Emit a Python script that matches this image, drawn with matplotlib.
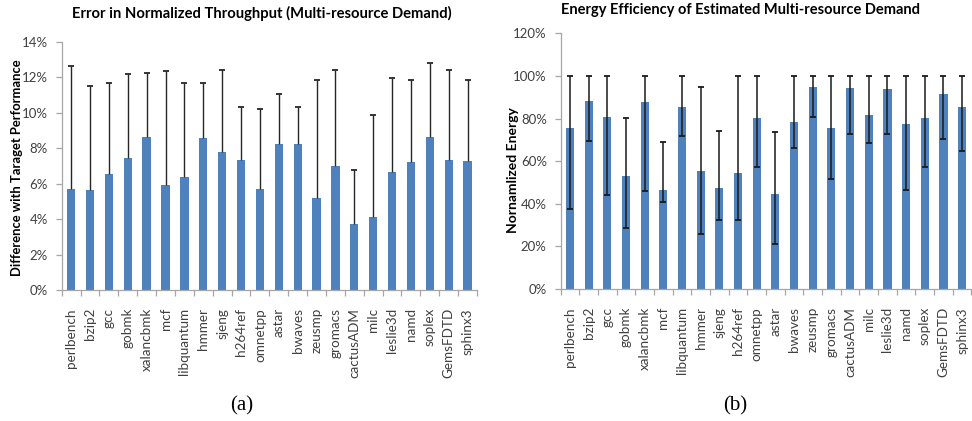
import numpy as np
import matplotlib
matplotlib.use("Agg")
import matplotlib.pyplot as plt
from matplotlib.ticker import FixedLocator, PercentFormatter

benchmarks = ["perlbench", "bzip2", "gcc", "gobmk", "xalancbmk", "mcf", "libquantum",
              "hmmer", "sjeng", "h264ref", "omnetpp", "astar", "bwaves", "zeusmp",
              "gromacs", "cactusADM", "milc", "leslie3d", "namd", "soplex",
              "GemsFDTD", "sphinx3"]

# (a) throughput error, percent: mean and maximum
tp_err_mean = [5.69, 5.66, 6.52, 7.44, 8.63, 5.90, 6.37, 8.57, 7.78, 7.31, 5.69,
               8.23, 8.23, 5.21, 6.97, 3.74, 4.12, 6.65, 7.22, 8.64, 7.33, 7.27]
tp_err_max = [12.65, 11.48, 11.69, 12.18, 12.25, 12.35, 11.65, 11.65, 12.42, 10.34, 10.22,
              11.03, 10.30, 11.82, 12.38, 6.77, 9.87, 11.97, 11.82, 12.78, 12.38, 11.82]

# (b) normalized energy, percent: mean, min and max
en_mean = [75.6, 88.1, 80.7, 52.9, 87.8, 46.5, 85.6, 55.2, 47.4, 54.3, 80.1,
           44.4, 78.4, 94.8, 75.6, 94.2, 81.5, 93.7, 77.6, 80.3, 91.4, 85.4]
en_min = [37.5, 69.3, 44.3, 28.5, 46.0, 40.8, 71.7, 25.8, 32.5, 32.5, 57.4,
          21.0, 66.0, 80.7, 51.6, 72.7, 68.4, 72.7, 46.3, 57.1, 70.4, 64.6]
en_max = [100.0, 100.0, 100.0, 80.1, 100.0, 69.2, 100.0, 94.7, 74.3, 100.0, 100.0,
          73.8, 100.0, 100.0, 100.0, 100.0, 99.8, 100.0, 100.0, 100.0, 100.0, 100.0]

BAR = "#4F81BD"
AXIS = "#A6A6A6"
TICKTXT = "#404040"
FONT = ["Lato", "DejaVu Sans"]

plt.rcParams["font.family"] = FONT

W, H = 972, 421
fig = plt.figure(figsize=(W / 100, H / 100), dpi=100)


def px_axes(x0, y0, x1, y1):
    return fig.add_axes([x0 / W, 1 - y1 / H, (x1 - x0) / W, (y1 - y0) / H])


def style(ax, ymax, ystep):
    n = len(benchmarks)
    ax.set_xlim(-0.5, n - 0.5)
    ax.set_ylim(0, ymax)
    for s in ("top", "right"):
        ax.spines[s].set_visible(False)
    for s in ("left", "bottom"):
        ax.spines[s].set_color(AXIS)
        ax.spines[s].set_linewidth(0.9)
    ax.set_xticks(range(n))
    ax.set_xticklabels(benchmarks, rotation=90, fontsize=9.7, color=TICKTXT)
    ax.tick_params(axis="x", which="major", length=0, pad=13)
    ax.xaxis.set_minor_locator(FixedLocator(np.arange(-0.5, n, 1.0)))
    ax.tick_params(axis="x", which="minor", length=4, color=AXIS, width=0.9)
    ax.set_yticks(np.arange(0, ymax + 1e-9, ystep))
    ax.yaxis.set_major_formatter(PercentFormatter(decimals=0))
    ax.tick_params(axis="y", length=4, color=AXIS, width=0.9, labelsize=9.5,
                   labelcolor=TICKTXT, pad=6)


def label_at(ax, text, xpx, ypx, size):
    # place a vertical axis label at a figure pixel position
    fig.text(xpx / W, 1 - ypx / H, text, rotation=90, fontsize=size,
             fontweight="bold", ha="center", va="center")


x = np.arange(len(benchmarks))

# ---- (a) ----
ax1 = px_axes(61.7, 41.7, 477, 290)
ax1.bar(x, tp_err_mean, width=0.44, color=BAR, zorder=2)
up = np.array(tp_err_max) - np.array(tp_err_mean)
ax1.errorbar(x, tp_err_mean, yerr=[np.zeros_like(up), up], fmt="none",
             ecolor="#262626", elinewidth=1.0, capsize=0, zorder=3)
ax1.plot(x, tp_err_max, linestyle="none", marker="_", markersize=5,
         markeredgewidth=1.3, color="#262626", zorder=3)
style(ax1, 14, 2)
fig.text(262 / W, 1 - 13 / H, "Error in Normalized Throughput (Multi-resource Demand)",
         fontsize=10.6, fontweight="bold", ha="center", va="center")
label_at(ax1, "Difference with Taraget Performance", 17.5, 168, 9.4)

# ---- (b) ----
ax2 = px_axes(560.7, 33.3, 971.4, 289)
ax2.bar(x, en_mean, width=0.44, color=BAR, zorder=2)
lo = np.array(en_mean) - np.array(en_min)
hi = np.array(en_max) - np.array(en_mean)
ax2.errorbar(x, en_mean, yerr=[lo, hi], fmt="none", ecolor="#1a1a1a",
             elinewidth=1.1, capsize=2.5, capthick=1.3, zorder=3)
style(ax2, 120, 20)
fig.text(740 / W, 1 - 10 / H, "Energy Efficiency of Estimated Multi-resource Demand",
         fontsize=10.5, fontweight="bold", ha="center", va="center")
label_at(ax2, "Nornamlized Energy", 513, 170, 10)

fig.text(242 / W, 1 - 406 / H, "(a)", fontsize=15, family="Liberation Serif",
         ha="center", va="center")
fig.text(735 / W, 1 - 406 / H, "(b)", fontsize=15, family="Liberation Serif",
         ha="center", va="center")

fig.savefig("out.png", dpi=100)
